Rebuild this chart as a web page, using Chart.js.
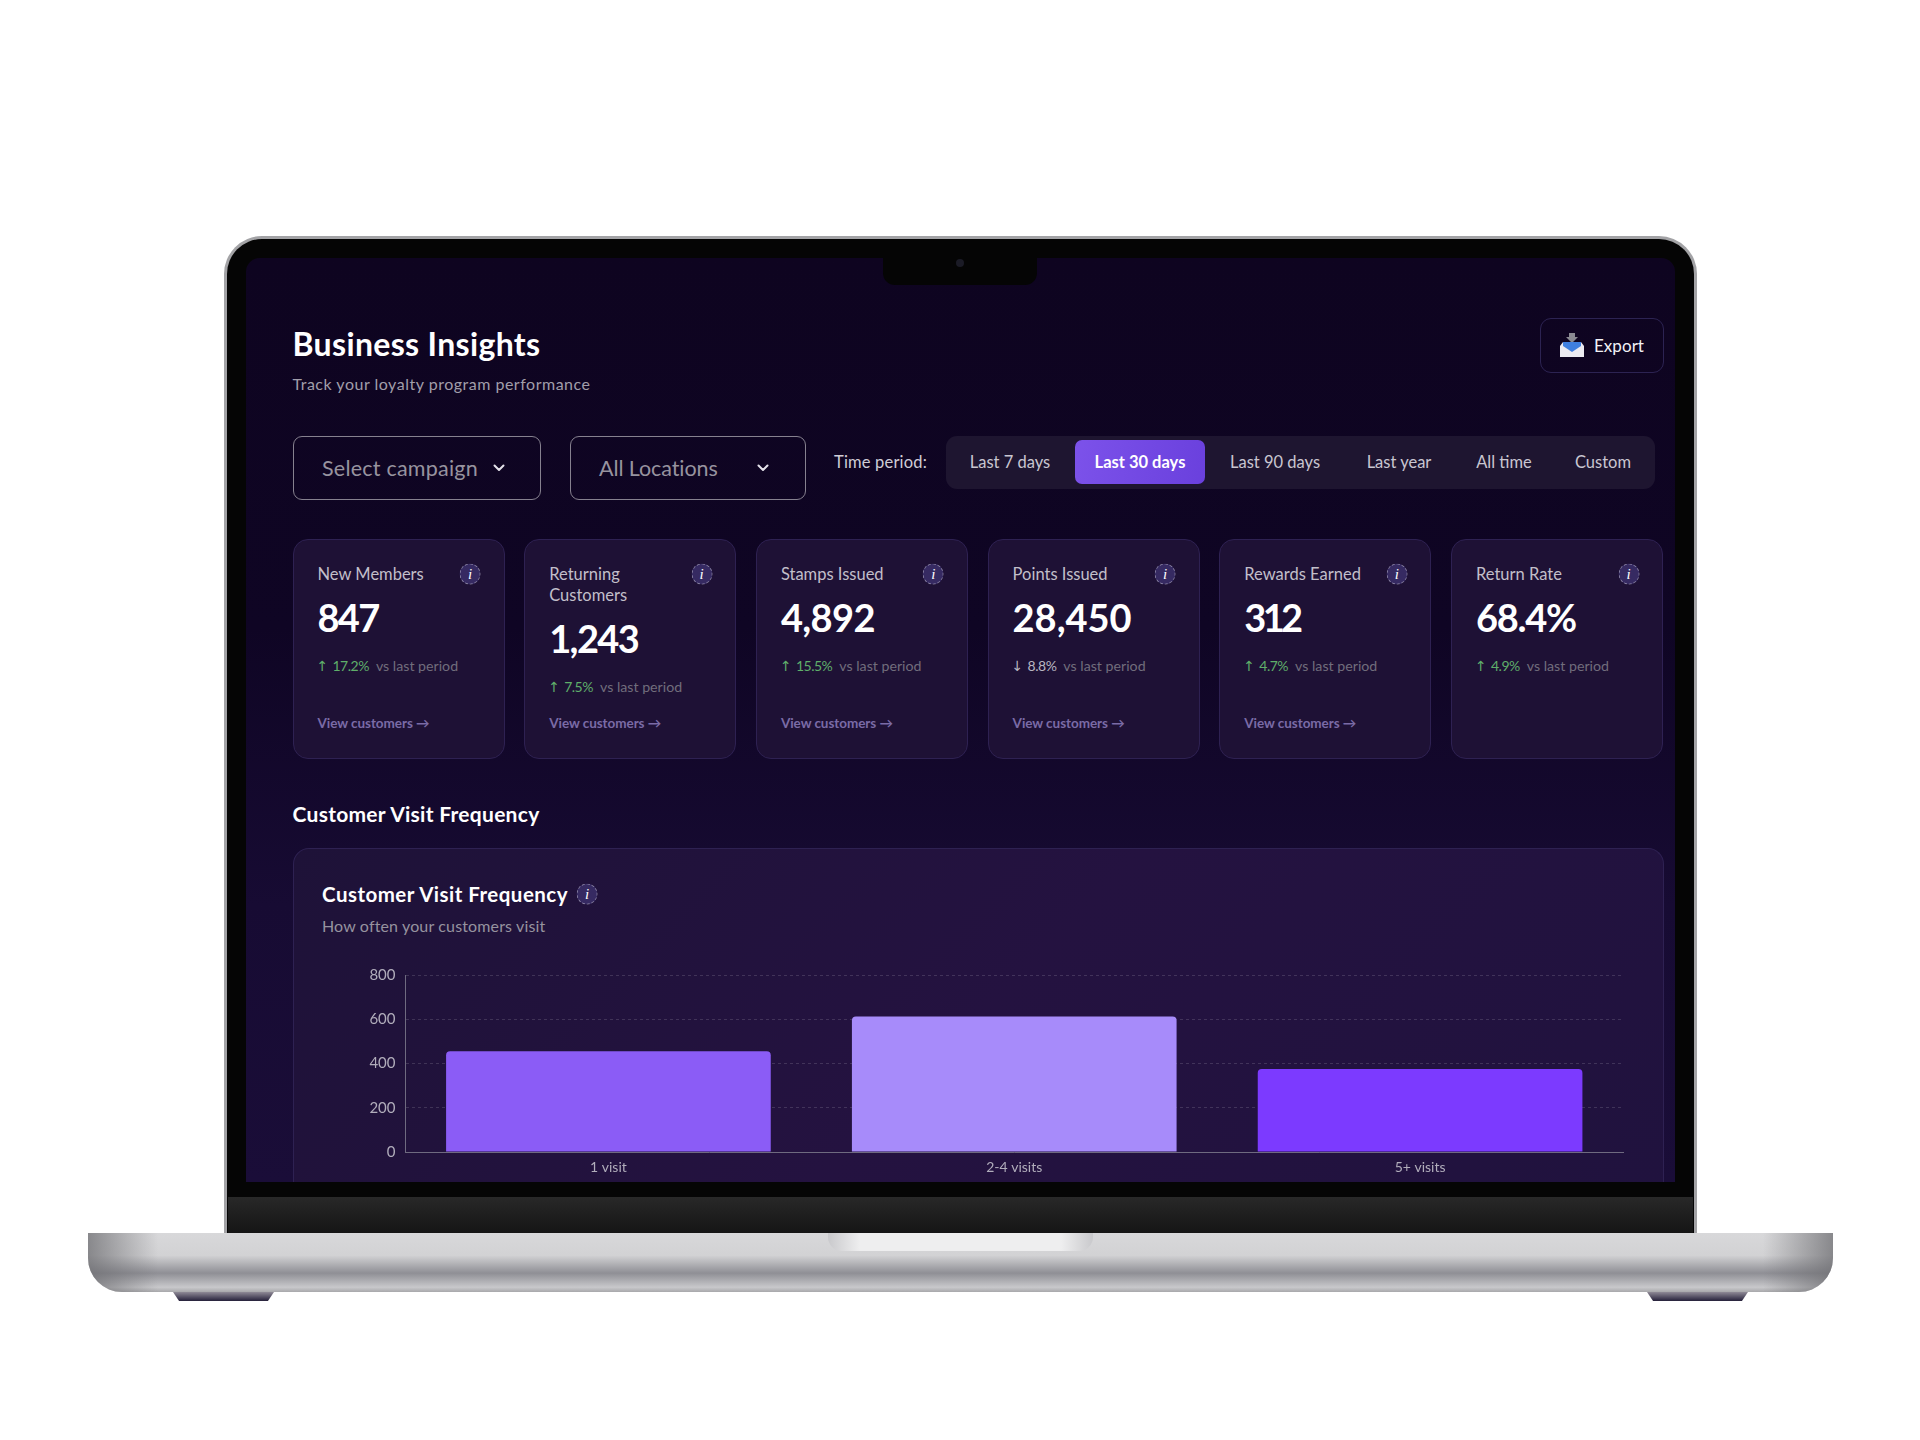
<!DOCTYPE html>
<html>
<head>
<meta charset="utf-8">
<title>Business Insights</title>
<script src="https://cdn.jsdelivr.net/npm/chart.js@4"></script>
<style>
  html, body { margin: 0; padding: 0; background: #fff; }
  body { width: 1920px; height: 1440px; position: relative; overflow: hidden; font-family: Lato, sans-serif; }
  .box { position: absolute; box-sizing: border-box; }
  .box svg, .box canvas { display: block; }
  .txt { position: absolute; white-space: nowrap; transform: translateY(-50%); line-height: 1; }
  .mid { transform: translate(-50%, -50%); }
  .info { position: absolute; width: 21px; height: 21px; border-radius: 50%; background: #362a62; border: 1px dashed rgba(255,255,255,.4);
          box-sizing: border-box; color: #fff; font: italic 15px/19px "Liberation Serif", serif; text-align: center; transform: translate(-50%, -50%); }
</style>
</head>
<body>
<div id="stage"></div>
<script>
// ==============================
// Data
// ==============================
const categories = ['1 visit', '2-4 visits', '5+ visits'];
const visitCounts = [455, 612, 375];
const barColors = ['#8b5cf6', '#a78bfa', '#7c3aff'];
const yTicks = [0, 200, 400, 600, 800];

const cardTitles = [['New Members'], ['Returning', 'Customers'], ['Stamps Issued'], ['Points Issued'], ['Rewards Earned'], ['Return Rate']];
const cardValues = ['847', '1,243', '4,892', '28,450', '312', '68.4%'];
const cardDeltas = ['17.2%', '7.5%', '15.5%', '8.8%', '4.7%', '4.9%'];
const cardUp = [true, true, true, false, true, true];
const cardLinks = [true, true, true, true, true, false];

const tabLabels = ['Last 7 days', 'Last 30 days', 'Last 90 days', 'Last year', 'All time', 'Custom'];
const tabCentres = [1010, 1140, 1275, 1399, 1504, 1603];
// measured widths of the big card numbers
const valueWidths = [61, 89, 94, 119, 55, 100];

// ==============================
// Helpers
// ==============================
const stage = document.getElementById('stage');

const box = (x, y, w, h, css = '') => {
  const el = document.createElement('div');
  el.className = 'box';
  el.style.cssText = `left:${x}px;top:${y}px;width:${w}px;height:${h}px;${css}`;
  stage.appendChild(el);
  return el;
};

// y is the vertical centre of the line, targetW nudges letter spacing to the measured width
const text = (x, y, str, size, color, weight = 400, targetW = 0, centred = false) => {
  const el = document.createElement('div');
  el.className = centred ? 'txt mid' : 'txt';
  el.textContent = str;
  el.style.cssText = `left:${x}px;top:${y}px;font-size:${size}px;color:${color};font-weight:${weight};`;
  stage.appendChild(el);
  if (targetW) {
    const w = el.getBoundingClientRect().width;
    el.style.letterSpacing = `${(targetW - w) / str.length}px`;
  }
  return el;
};

const info = (x, y) => {
  const el = document.createElement('div');
  el.className = 'info';
  el.textContent = 'i';
  el.style.left = `${x}px`;
  el.style.top = `${y}px`;
  stage.appendChild(el);
};

const chevron = (x, y) => {
  const el = box(x - 6, y - 4, 12, 8);
  el.innerHTML = '<svg width="12" height="8" viewBox="0 0 12 8"><path d="M1.5 1.5 L6 6 L10.5 1.5" fill="none" stroke="#e4e2ea" stroke-width="2" stroke-linecap="round" stroke-linejoin="round"/></svg>';
};

// ==============================
// Laptop frame
// ==============================
box(224, 236, 1473, 997, 'background:#050505;border:3px solid #a3a3a6;border-bottom:none;border-radius:38px 38px 0 0;');
box(228, 1197, 1465, 36, 'background:linear-gradient(#282828,#151515);');
box(246, 258, 1429, 924, 'background:linear-gradient(#0e0420 0%,#0f0524 40%,#170b33 70%,#1a0d38 100%);border-radius:14px 14px 0 0;overflow:hidden;');
box(883, 256, 154, 29, 'background:#050505;border-radius:0 0 12px 12px;');
box(956, 259, 8, 8, 'background:#1b1b26;border-radius:50%;');
box(88, 1233, 1745, 59, 'background:linear-gradient(#d8d8da 0%,#d2d2d4 38%,#8f8f95 68%,#c8c8cb 92%,#a8a8ab 100%);border-radius:0 0 34px 34px;');
box(88, 1233, 70, 59, 'background:linear-gradient(90deg,rgba(110,110,114,.75),rgba(190,190,194,0));border-radius:0 0 0 34px;');
box(1763, 1233, 70, 59, 'background:linear-gradient(270deg,rgba(110,110,114,.75),rgba(190,190,194,0));border-radius:0 0 34px 0;');
box(828, 1233, 265, 18, 'background:linear-gradient(90deg,#c9c9cc,#eeeeef 12%,#eeeeef 88%,#c9c9cc);border-radius:0 0 14px 14px;');
box(173, 1292, 101, 9, 'background:linear-gradient(#8f8a96,#25203a);clip-path:polygon(0 0,100% 0,94% 100%,6% 100%);');
box(1647, 1292, 101, 9, 'background:linear-gradient(#8f8a96,#25203a);clip-path:polygon(0 0,100% 0,94% 100%,6% 100%);');

// ==============================
// Header
// ==============================
text(292.5, 343.5, 'Business Insights', 32, '#ffffff', 700, 248);
text(292.5, 384, 'Track your loyalty program performance', 16, '#a19eaa', 400, 298);

box(1540, 318, 124, 55, 'border:1.5px solid #2c2352;border-radius:11px;');
const exportIcon = box(1560, 333, 24, 24);
exportIcon.innerHTML = '<svg width="24" height="24" viewBox="0 0 24 24"><path d="M9 0h6v4h3l-6 6-6-6h3z" fill="#8a8a92"/><path d="M0 13l3-4h18l3 4v11H0z" fill="#ecebf2"/><path d="M3 9h18v4l-9 6-9-6z" fill="#3f7fe0"/></svg>';
text(1594, 344.5, 'Export', 17, '#f2f1f6', 400, 50);

// ==============================
// Filters
// ==============================
box(292.5, 436, 248, 64, 'border:1.5px solid #86818f;border-radius:9px;');
text(322, 468.5, 'Select campaign', 21.5, '#97939f', 400, 156);
chevron(499, 468);
box(569.5, 436, 236.5, 64, 'border:1.5px solid #86818f;border-radius:9px;');
text(599, 468.5, 'All Locations', 21.5, '#97939f', 400, 119);
chevron(763, 468);
text(834, 461.5, 'Time period:', 16.5, '#cfccd6', 400, 93);

box(946, 436, 709, 53, 'background:#1e1530;border-radius:11px;');
box(1075, 440, 130, 44, 'background:linear-gradient(100deg,#7c52ea,#6a40dd);border-radius:7px;');
tabLabels.forEach((label, i) => {
  text(tabCentres[i], 461.5, label, 16.5, i === 1 ? '#ffffff' : '#c9c6d1', i === 1 ? 700 : 400, 0, true);
});

// ==============================
// Stat cards
// ==============================
cardTitles.forEach((lines, i) => {
  const cx = 292.5 + i * 231.7;
  const tx = cx + 25;
  const shift = (lines.length - 1) * 21.5;
  box(cx, 539, 212, 220, 'background:#1e1135;border:1.5px solid #2e2152;border-radius:15px;');
  lines.forEach((line, k) => text(tx, 573.5 + k * 21.5, line, 16.5, '#c2bfca'));
  info(cx + 177.5, 574);
  text(tx, 616.5 + shift, cardValues[i], 38, '#ffffff', 700, valueWidths[i]);
  const deltaColor = cardUp[i] ? '#5fae6a' : '#b9b6c1';
  const arrow = text(tx - 1, 665.5 + shift, cardUp[i] ? '↑' : '↓', 14, deltaColor);
  arrow.style.fontFamily = '"DejaVu Sans", sans-serif';
  const pct = text(tx + 15, 665.5 + shift, cardDeltas[i], 14, deltaColor);
  pct.style.letterSpacing = '-0.5px';
  text(tx + 15 + pct.getBoundingClientRect().width + 7, 665.5 + shift, 'vs last period', 14.2, '#716d7c');
  if (cardLinks[i]) text(tx, 724, 'View customers →', 13.5, '#7a6ba6', 700, 112);
});

// ==============================
// Chart panel
// ==============================
text(292.5, 813, 'Customer Visit Frequency', 21, '#ffffff', 700, 247);
box(292.5, 848, 1371.5, 334, 'background:linear-gradient(135deg,#1e1238,#241240 50%,#20123e);border:1.5px solid #2e2152;border-bottom:none;border-radius:16px 16px 0 0;');
text(322, 894, 'Customer Visit Frequency', 20.5, '#ffffff', 700, 246);
info(587, 894);
text(322, 926, 'How often your customers visit', 16, '#96929f', 400, 223);

const holder = box(330, 956, 1310, 226);
const canvas = document.createElement('canvas');
canvas.width = 1310;
canvas.height = 226;
holder.appendChild(canvas);

new Chart(canvas, {
  type: 'bar',
  data: {
    labels: categories,
    datasets: [{ data: visitCounts, backgroundColor: barColors, borderRadius: { topLeft: 4, topRight: 4 }, borderSkipped: 'bottom', barPercentage: 0.8, categoryPercentage: 1 }]
  },
  options: {
    responsive: false,
    animation: false,
    layout: { padding: { top: 0, right: 17, left: 0, bottom: 0 } },
    plugins: { legend: { display: false }, tooltip: { enabled: false } },
    scales: {
      x: {
        grid: { display: false, drawTicks: false },
        border: { color: '#6f6a80', width: 1 },
        ticks: { color: '#b1adbb', font: { family: 'Lato', size: 14 }, padding: 7 },
        afterFit: s => { s.height = 30; }
      },
      y: {
        min: 0,
        max: 800,
        afterBuildTicks: s => { s.ticks = yTicks.map(value => ({ value })); },
        grid: { color: 'rgba(255,255,255,.14)', drawTicks: false },
        border: { color: '#6f6a80', width: 1, dash: [3, 3] },
        ticks: { color: '#b1adbb', font: { family: 'Lato', size: 15 }, padding: 10 },
        afterFit: s => { s.width = 75.5; }
      }
    }
  }
});
</script>
</body>
</html>
